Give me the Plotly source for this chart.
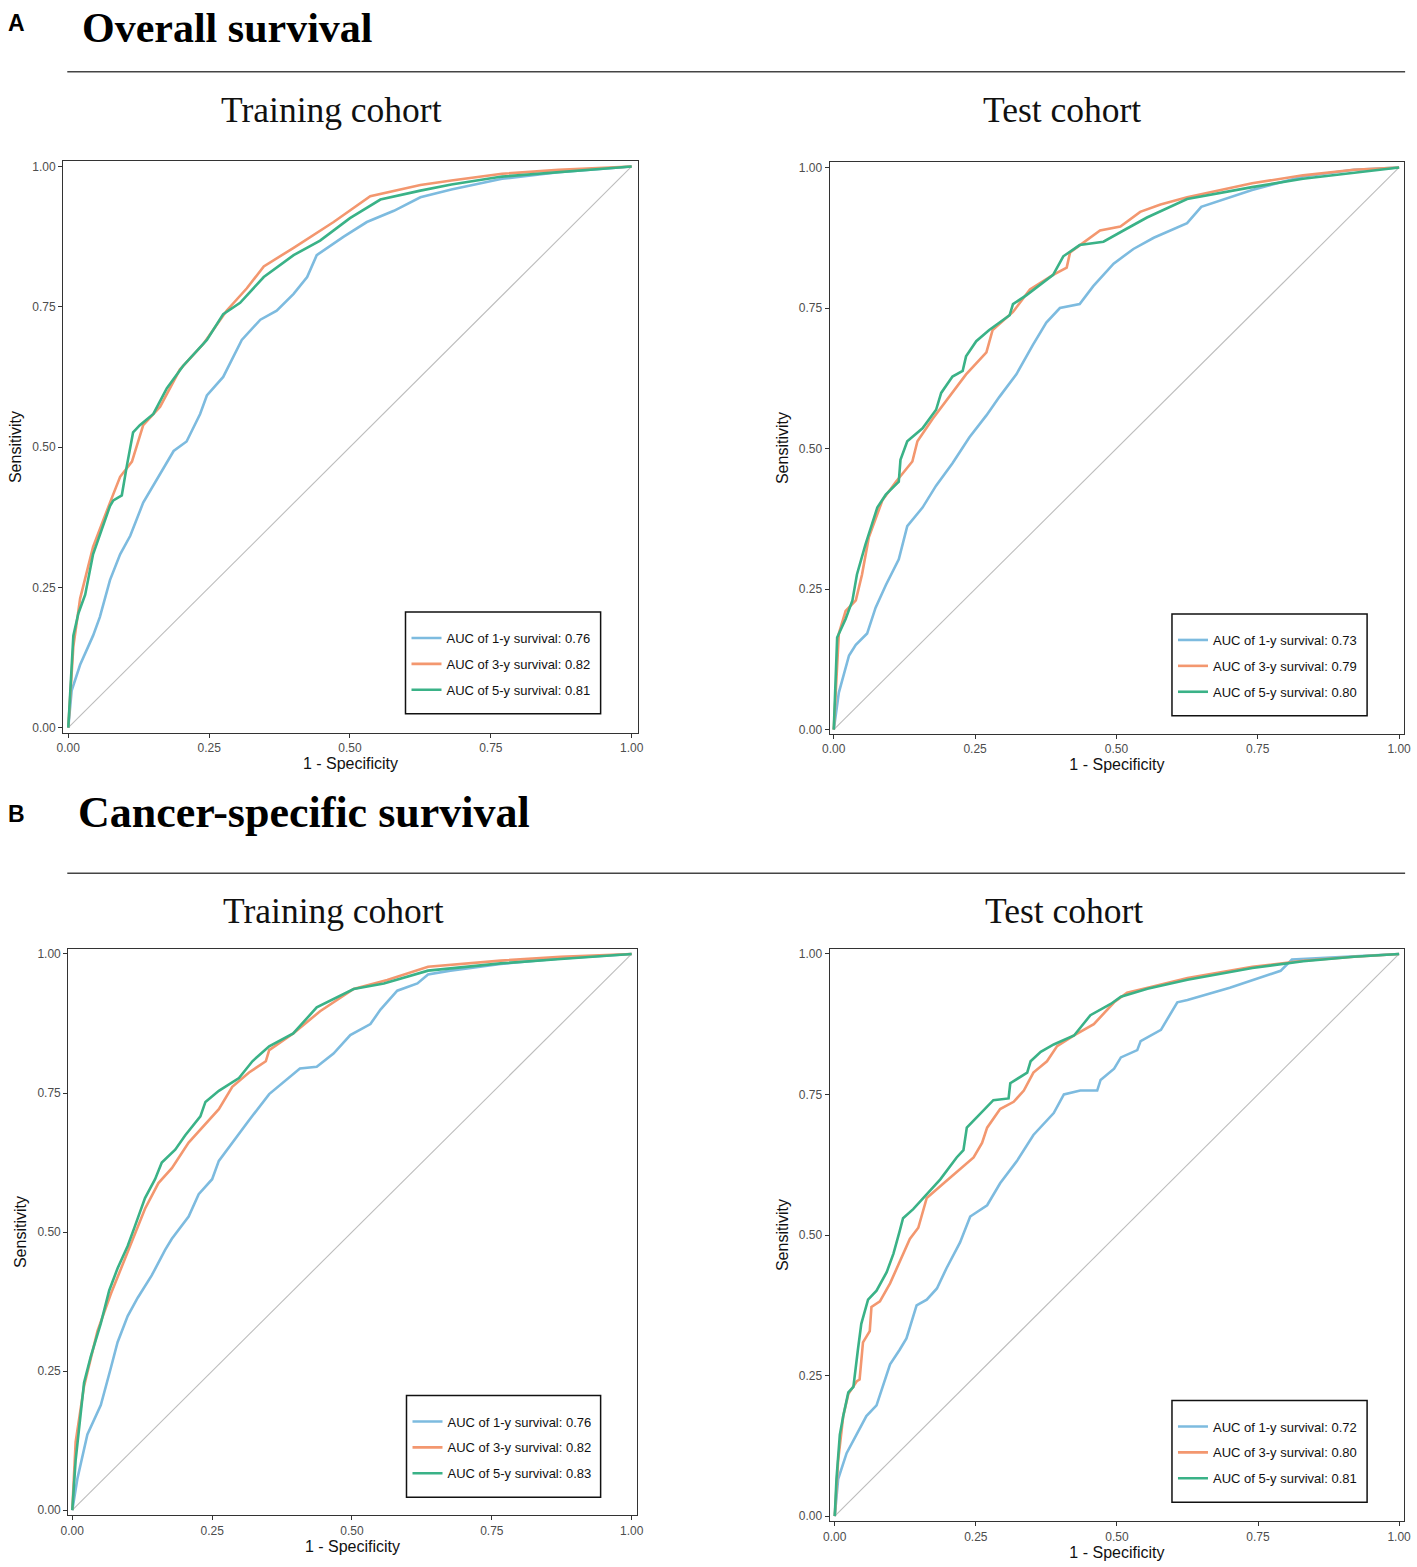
import plotly.graph_objects as go

W, H = 1417, 1567

# ---------------- data ----------------
series_names = ["AUC of 1-y survival", "AUC of 3-y survival", "AUC of 5-y survival"]
auc_os_train = [0.76, 0.82, 0.81]
auc_os_test = [0.73, 0.79, 0.80]
auc_css_train = [0.76, 0.82, 0.83]
auc_css_test = [0.72, 0.80, 0.81]

tick_vals = [0, 0.25, 0.5, 0.75, 1.0]
tick_text = ["0.00", "0.25", "0.50", "0.75", "1.00"]
diag = [0, 1]

# Overall survival - training cohort
os_train_fpr_1y = [0, .006, .021, .044, .056, .074, .092, .110, .133, .157, .187, .210, .234, .246, .275, .308, .341, .370, .400, .424, .441, .489, .530, .578, .625, .68, .77, .87, 1.0]
os_train_tpr_1y = [0, .066, .112, .164, .197, .263, .309, .342, .401, .441, .493, .510, .559, .592, .625, .691, .727, .743, .773, .803, .842, .875, .901, .921, .945, .959, .978, .99, 1.0]
os_train_fpr_3y = [0, .009, .021, .044, .074, .092, .113, .133, .163, .198, .240, .281, .317, .347, .400, .471, .536, .625, .68, .77, .87, 1.0]
os_train_tpr_3y = [0, .145, .23, .322, .401, .447, .474, .539, .572, .638, .684, .743, .783, .822, .855, .901, .947, .967, .975, .987, .994, 1.0]
os_train_fpr_5y = [0, .009, .018, .030, .044, .062, .074, .080, .095, .104, .115, .127, .151, .175, .204, .246, .275, .305, .347, .400, .447, .500, .554, .625, .68, .77, .87, 1.0]
os_train_tpr_5y = [0, .164, .204, .237, .309, .362, .395, .405, .414, .467, .526, .539, .559, .605, .645, .691, .737, .757, .803, .842, .868, .908, .941, .957, .968, .982, .99, 1.0]

# Overall survival - test cohort
os_test_fpr_1y = [0, .009, .027, .039, .059, .074, .092, .115, .130, .157, .181, .210, .240, .270, .293, .323, .352, .376, .400, .435, .459, .495, .530, .566, .625, .65, .74, .83, .92, 1.0]
os_test_tpr_1y = [0, .066, .132, .151, .171, .217, .257, .303, .362, .395, .434, .474, .520, .559, .592, .632, .684, .724, .750, .757, .789, .829, .855, .875, .901, .93, .96, .984, .996, 1.0]
os_test_fpr_3y = [0, .009, .021, .039, .050, .062, .086, .110, .139, .148, .175, .210, .234, .270, .281, .317, .347, .388, .412, .418, .471, .507, .542, .578, .625, .74, .83, .92, 1.0]
os_test_tpr_3y = [0, .171, .211, .230, .276, .342, .408, .441, .477, .513, .553, .599, .632, .671, .711, .743, .783, .809, .822, .849, .888, .895, .921, .934, .947, .972, .986, .996, 1.0]
os_test_fpr_5y = [0, .006, .021, .033, .041, .056, .077, .092, .115, .118, .130, .157, .181, .190, .210, .228, .234, .252, .275, .311, .317, .341, .388, .406, .435, .477, .518, .554, .625, .74, .83, .92, 1.0]
os_test_tpr_5y = [0, .164, .197, .230, .276, .329, .395, .418, .441, .480, .513, .536, .569, .599, .628, .638, .664, .691, .711, .737, .757, .773, .809, .842, .862, .868, .891, .911, .944, .965, .98, .99, 1.0]

# Cancer-specific survival - training cohort
css_train_fpr_1y = [0, .009, .027, .051, .069, .081, .099, .117, .142, .166, .178, .208, .226, .250, .262, .286, .316, .352, .383, .407, .437, .467, .497, .533, .551, .581, .617, .636, .676, .766, .873, 1.0]
css_train_tpr_1y = [0, .056, .136, .189, .256, .302, .349, .382, .422, .468, .488, .528, .568, .595, .628, .661, .701, .748, .774, .794, .797, .821, .854, .874, .900, .934, .947, .963, .97, .982, .992, 1.0]
css_train_fpr_3y = [0, .006, .021, .045, .069, .093, .111, .130, .154, .178, .208, .238, .262, .286, .316, .346, .352, .395, .443, .503, .563, .636, .766, .873, 1.0]
css_train_tpr_3y = [0, .123, .223, .322, .389, .449, .495, .542, .588, .615, .661, .694, .721, .761, .787, .807, .827, .857, .897, .937, .953, .977, .988, .995, 1.0]
css_train_fpr_5y = [0, .006, .021, .033, .051, .066, .081, .099, .111, .130, .148, .160, .184, .202, .229, .238, .262, .298, .322, .352, .395, .437, .503, .557, .636, .766, .873, 1.0]
css_train_tpr_5y = [0, .090, .229, .276, .336, .395, .435, .475, .508, .561, .595, .625, .648, .674, .708, .734, .754, .777, .807, .834, .857, .904, .937, .947, .970, .983, .991, 1.0]

# Cancer-specific survival - test cohort
css_test_fpr_1y = [0, .006, .021, .039, .056, .074, .098, .115, .127, .145, .163, .181, .198, .222, .240, .270, .293, .323, .352, .388, .406, .435, .465, .471, .495, .507, .536, .542, .578, .607, .625, .70, .79, .81, 1.0]
css_test_tpr_1y = [0, .066, .112, .145, .178, .197, .270, .296, .316, .375, .385, .405, .441, .487, .533, .553, .592, .632, .678, .717, .750, .757, .757, .776, .796, .816, .829, .845, .865, .914, .918, .94, .97, .99, 1.0]
css_test_fpr_3y = [0, .006, .015, .024, .039, .044, .050, .062, .065, .080, .098, .115, .133, .148, .163, .193, .222, .246, .261, .270, .293, .317, .335, .352, .376, .394, .424, .459, .495, .518, .560, .625, .74, .83, .92, 1.0]
css_test_tpr_3y = [0, .099, .178, .217, .240, .243, .309, .329, .372, .382, .414, .454, .493, .513, .566, .592, .618, .638, .664, .691, .724, .737, .757, .789, .809, .836, .855, .875, .914, .931, .941, .957, .977, .988, .995, 1.0]
css_test_fpr_5y = [0, .003, .009, .015, .024, .033, .041, .047, .059, .074, .092, .104, .115, .121, .139, .163, .187, .216, .228, .234, .258, .281, .308, .311, .341, .347, .365, .388, .424, .453, .489, .507, .554, .625, .74, .83, .92, 1.0]
css_test_tpr_5y = [0, .066, .145, .178, .220, .230, .296, .342, .385, .401, .434, .467, .507, .530, .546, .572, .599, .638, .651, .691, .717, .740, .743, .770, .789, .809, .826, .839, .855, .891, .911, .924, .938, .954, .975, .987, .995, 1.0]

# ---------------- styling / layout ----------------
colors = ["#7DBBDF", "#F3976F", "#3AB287"]
SANS = "Liberation Sans, Arial, sans-serif"
SERIF = "Liberation Serif, Times New Roman, serif"

# horizontal correction for how the page ends up in the photographed picture
X_OFF, X_SCALE = 7.75, 0.9888


def px_x(p):
    return max(0.0, (p - X_OFF) / X_SCALE) / W


def px_y(p):
    return 1 - p / H


# panel frames in pixels: (left, right, top, bottom)
frames = [
    (63, 637, 160, 733),
    (829, 1403, 161, 734),
    (68, 636, 950, 1518),
    (829, 1403, 950, 1524),
]
# data 0..1 pixel positions (x0, x1, y0(bottom), y1(top))
data_px = [
    (68, 631, 728, 165),
    (833, 1398, 730, 166),
    (72, 631, 1513, 955),
    (834, 1398, 1519, 955),
]
legend_boxes = [
    (405, 600, 612, 714),
    (1171, 1366, 614, 716),
    (406, 600, 1398, 1500),
    (1171, 1366, 1403, 1505),
]

panels = [
    (auc_os_train, [(os_train_fpr_1y, os_train_tpr_1y), (os_train_fpr_3y, os_train_tpr_3y), (os_train_fpr_5y, os_train_tpr_5y)]),
    (auc_os_test, [(os_test_fpr_1y, os_test_tpr_1y), (os_test_fpr_3y, os_test_tpr_3y), (os_test_fpr_5y, os_test_tpr_5y)]),
    (auc_css_train, [(css_train_fpr_1y, css_train_tpr_1y), (css_train_fpr_3y, css_train_tpr_3y), (css_train_fpr_5y, css_train_tpr_5y)]),
    (auc_css_test, [(css_test_fpr_1y, css_test_tpr_1y), (css_test_fpr_3y, css_test_tpr_3y), (css_test_fpr_5y, css_test_tpr_5y)]),
]

fig = go.Figure()
layout = dict(
    width=W, height=H, margin=dict(l=0, r=0, t=0, b=0),
    paper_bgcolor="white", plot_bgcolor="white",
    showlegend=True,
    font=dict(family=SANS, color="#222"),
)
shapes = []

for i, (aucs, curves) in enumerate(panels):
    n = "" if i == 0 else str(i + 1)
    xa, ya = "x" + n, "y" + n
    leg = "legend" + n
    fig.add_trace(go.Scatter(x=diag, y=diag, mode="lines", xaxis=xa, yaxis=ya,
                             line=dict(color="#BDBDBD", width=1.1), showlegend=False,
                             hoverinfo="skip"))
    for k, (fx, ty) in enumerate(curves):
        fig.add_trace(go.Scatter(
            x=fx, y=ty, mode="lines", xaxis=xa, yaxis=ya,
            name=f"{series_names[k]}: {aucs[k]:.2f}",
            legend=leg, legendgroup=f"g{i}_{k}",
            line=dict(color=colors[k], width=2.6),
        ))
    L, R, T, B = frames[i]
    dx0, dx1, dy0, dy1 = data_px[i]
    sx = (dx1 - dx0)
    sy = (dy0 - dy1)
    xr = [-(dx0 - L) / sx, 1 + (R - dx1) / sx]
    yr = [-(B - dy0) / sy, 1 + (dy1 - T) / sy]
    axis_common = dict(
        showgrid=False, zeroline=False, showline=True, mirror=True,
        linecolor="#333333", linewidth=1.3, ticks="outside", ticklen=4,
        tickcolor="#333333", tickwidth=1, tickvals=tick_vals, ticktext=tick_text,
        tickfont=dict(family=SANS, size=12, color="#4D4D4D"),
    )
    layout["xaxis" + n] = dict(
        axis_common, domain=[px_x(L), px_x(R)], range=xr, anchor=ya,
        title=dict(text="1 - Specificity", font=dict(family=SANS, size=16, color="#111"), standoff=1),
    )
    layout["yaxis" + n] = dict(
        axis_common, domain=[px_y(B), px_y(T)], range=yr, anchor=xa,
        title=dict(text="Sensitivity", font=dict(family=SANS, size=16, color="#111"), standoff=6),
    )
    bl, br, bt, bb = legend_boxes[i]
    shapes.append(dict(type="rect", xref="paper", yref="paper",
                       x0=px_x(bl), x1=px_x(br), y0=px_y(bb), y1=px_y(bt),
                       line=dict(color="#111", width=1.5), fillcolor="rgba(0,0,0,0)"))
    layout[leg] = dict(
        x=px_x(bl + 1), y=px_y(bt + 11), xanchor="left", yanchor="top",
        bgcolor="rgba(0,0,0,0)", borderwidth=0,
        font=dict(family=SANS, size=13, color="#111"),
        traceorder="grouped", tracegroupgap=6, itemwidth=30,
    )

# section header lines
for yline in (70, 874):
    shapes.append(dict(type="line", xref="paper", yref="paper",
                       x0=px_x(67), x1=px_x(1404), y0=px_y(yline), y1=px_y(yline),
                       line=dict(color="#444", width=1.5)))

annotations = [
    dict(text="<b>A</b>", x=px_x(0), y=px_y(21), xshift=-2, font=dict(family=SANS, size=23, color="#000")),
    dict(text="<b>Overall survival</b>", x=px_x(80), y=px_y(26), font=dict(family=SERIF, size=42, color="#000")),
    dict(text="<b>B</b>", x=px_x(0), y=px_y(815), xshift=-2, font=dict(family=SANS, size=23, color="#000")),
    dict(text="<b>Cancer-specific survival</b>", x=px_x(76), y=px_y(813), font=dict(family=SERIF, size=44, color="#000")),
]
for txt, cx, cy in [("Training cohort", 331, 108), ("Test cohort", 1061, 108),
                    ("Training cohort", 333, 912), ("Test cohort", 1063, 912)]:
    annotations.append(dict(text=txt, x=px_x(cx), y=px_y(cy), xanchor="center",
                            font=dict(family=SERIF, size=35.5, color="#111")))
for a in annotations:
    a.setdefault("xanchor", "left")
    a.update(xref="paper", yref="paper", yanchor="middle", showarrow=False)

layout["shapes"] = shapes
layout["annotations"] = annotations
fig.update_layout(**layout)

page_fix = (
    "document.documentElement.style.margin='0';"
    "document.documentElement.style.overflow='hidden';"
    "document.body.style.margin='0';"
    "document.body.style.overflow='hidden';"
    "var gd=document.getElementById('{plot_id}');"
    "gd.style.position='absolute';gd.style.left='0px';gd.style.top='0px';"
)
fig.write_html("out.html", config={"displayModeBar": False}, post_script=page_fix)
